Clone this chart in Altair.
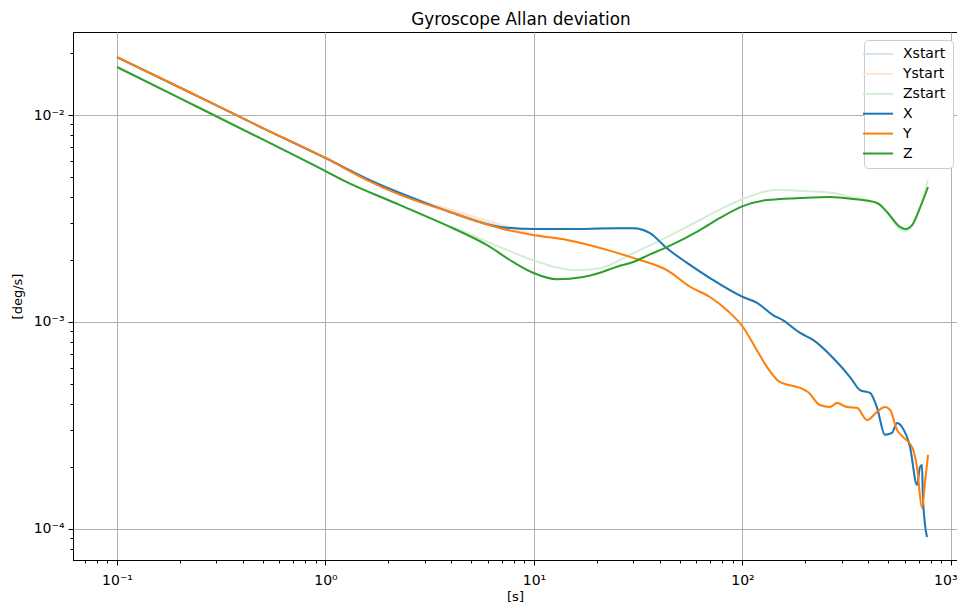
import altair as alt
import pandas as pd

# ---------------- data ----------------
tau_X = [0.1, 0.2, 0.5, 1.0, 1.63, 2.54, 3.95, 6.87, 9.89, 14.4, 25.0, 29.9, 36.0, 43.4, 54.2,
         69.8, 100.5, 117, 140, 156, 189, 218, 272, 328, 366, 409, 442, 482, 521, 551, 582,
         636, 687, 710, 726, 734, 767]
dev_X = [0.01905, 0.01358, 0.00865, 0.00620, 0.00485, 0.00402, 0.00340, 0.00288, 0.00281, 0.00281,
         0.00284, 0.00284, 0.00269, 0.00227, 0.00193, 0.00163, 0.00132, 0.00124, 0.00108, 0.00102,
         0.000885, 0.000819, 0.000670, 0.000542, 0.000469, 0.000454, 0.000385, 0.000285, 0.000291,
         0.000325, 0.000311, 0.000249, 0.000163, 0.000199, 0.000204, 0.000138, 0.0000914]
dev_Xstart = [0.01905, 0.01358, 0.00865, 0.00620, 0.00487, 0.00405, 0.00345, 0.00292, 0.00282, 0.00281,
              0.00284, 0.00284, 0.00269, 0.00227, 0.00193, 0.00163, 0.00132, 0.00124, 0.00108, 0.00102,
              0.000885, 0.000819, 0.000670, 0.000542, 0.000469, 0.000454, 0.000385, 0.000285, 0.000291,
              0.000325, 0.000311, 0.000249, 0.000163, 0.000199, 0.000204, 0.000138, 0.0000914]

tau_Y = [0.1, 0.2, 0.5, 1.0, 1.58, 2.28, 3.95, 6.87, 9.89, 14.4, 22.4, 29.9, 43.4, 56.0, 69.8,
         84.3, 100.5, 117, 131, 151, 189, 206, 235, 263, 284, 317, 354, 396, 442, 482, 510,
         551, 589, 650, 687, 726, 750, 776]
dev_Y = [0.01905, 0.01358, 0.00865, 0.00620, 0.00485, 0.00411, 0.00340, 0.00284, 0.00263, 0.00249,
         0.00223, 0.00204, 0.00178, 0.00148, 0.00132, 0.00114, 0.000946, 0.000733, 0.000607, 0.000513,
         0.000480, 0.000459, 0.000397, 0.000388, 0.000406, 0.000388, 0.000385, 0.000336, 0.000368,
         0.000388, 0.000376, 0.000301, 0.000278, 0.000249, 0.000199, 0.000126, 0.000167, 0.000228]
dev_Ystart = [0.01905, 0.01358, 0.00865, 0.00620, 0.00488, 0.00416, 0.00351, 0.00296, 0.00266, 0.00250,
              0.00223, 0.00204, 0.00178, 0.00148, 0.00132, 0.00114, 0.000946, 0.000733, 0.000607, 0.000513,
              0.000480, 0.000459, 0.000397, 0.000392, 0.000410, 0.000392, 0.000385, 0.000336, 0.000368,
              0.000388, 0.000376, 0.000301, 0.000278, 0.000249, 0.000199, 0.000126, 0.000167, 0.000228]

tau_Z = [0.1, 0.2, 0.5, 1.0, 1.21, 2.28, 3.95, 5.96, 7.93, 9.89, 12.9, 17.2, 20.7, 25.0, 29.9,
         36.0, 43.4, 62.5, 78.0, 100.5, 131, 189, 263, 339, 442, 493, 569, 601, 650, 710, 776]
dev_Z = [0.01706, 0.01206, 0.00762, 0.00536, 0.00485, 0.00367, 0.00288, 0.00235, 0.00195, 0.00173,
         0.00161, 0.00165, 0.00173, 0.00185, 0.00195, 0.00212, 0.00230, 0.00278, 0.00318, 0.00363,
         0.00388, 0.00397, 0.00402, 0.00393, 0.00376, 0.00340, 0.00288, 0.00281, 0.00294, 0.00356,
         0.00449]

tau_Zstart = [0.1, 0.2, 0.5, 1.0, 1.21, 2.28, 3.07, 4.77, 6.87, 9.89, 16.1, 20.7, 29.9, 43.4, 62.5,
              100.5, 146, 189, 272, 328, 442, 493, 569, 601, 650, 710, 776]
dev_Zstart = [0.01706, 0.01206, 0.00762, 0.00536, 0.00485, 0.00367, 0.00321, 0.00269, 0.00230, 0.00199,
              0.00178, 0.00182, 0.00215, 0.00257, 0.00311, 0.00393, 0.00435, 0.00430, 0.00420, 0.00402,
              0.00376, 0.00340, 0.00280, 0.00275, 0.00290, 0.00360, 0.00485]

series_names = ["Xstart", "Ystart", "Zstart", "X", "Y", "Z"]
series_colors = ["#d2e4f0", "#ffe5cf", "#d5ecd5", "#1f77b4", "#ff7f0e", "#2ca02c"]

x_major = [0.1, 1, 10, 100, 1000]
x_major_labels = ["10\u207b\u00b9", "10\u2070", "10\u00b9", "10\u00b2", "10\u00b3"]
y_major = [0.0001, 0.001, 0.01]
y_major_labels = ["10\u207b\u2074", "10\u207b\u00b3", "10\u207b\u00b2"]
minor_mult = [2, 3, 4, 5, 6, 7, 8, 9]
x_domain = [0.06152, 1068.5]
y_domain = [7.08e-5, 0.02518]

# ---------------- build table ----------------
rows = []
for name, taus, devs in [("Xstart", tau_X, dev_Xstart), ("Ystart", tau_Y, dev_Ystart),
                         ("Zstart", tau_Zstart, dev_Zstart), ("X", tau_X, dev_X),
                         ("Y", tau_Y, dev_Y), ("Z", tau_Z, dev_Z)]:
    for i, (t, d) in enumerate(zip(taus, devs)):
        rows.append({"series": name, "tau": t, "dev": d, "idx": i})
df = pd.DataFrame(rows)


def tick_values(majors, lo, hi):
    vals = []
    for m in majors + [majors[0] / 10]:
        for k in [1] + minor_mult:
            v = m * k
            if lo <= v <= hi:
                vals.append(v)
    return sorted(set(vals))


def label_expr(vals, labels):
    e = ""
    for v, l in zip(vals, labels):
        e += f"abs(datum.value/{v}-1)<1e-6 ? '{l}' : "
    return e + "''"


major_test = "abs(log(datum.value)/LN10 - round(log(datum.value)/LN10)) < 1e-6"
FONT = "DejaVu Sans"


def make_axis(vals, labels, lo, hi, title_pad, label_pad, **extra):
    return alt.Axis(
        values=tick_values(vals, lo, hi),
        labelExpr=label_expr(vals, labels),
        labelOverlap=False,
        labelFlush=False,
        grid=True,
        gridColor="#b0b0b0",
        gridWidth=1,
        gridOpacity={"condition": {"test": major_test, "value": 1}, "value": 0},
        tickSize={"condition": {"test": major_test, "value": 5}, "value": 3},
        tickColor="black",
        tickWidth=1,
        domainColor="black",
        domainWidth=1,
        labelFont=FONT,
        labelFontSize=14,
        labelColor="black",
        labelPadding=label_pad,
        titleFont=FONT,
        titleFontSize=13,
        titleFontWeight="normal",
        titleColor="black",
        titlePadding=title_pad,
        **extra,
    )


x_enc = alt.X("tau:Q", title="[s]",
              scale=alt.Scale(type="log", domain=x_domain, nice=False),
              axis=make_axis(x_major, x_major_labels, x_domain[0], x_domain[1], 3, 8,
                             labelAlign={"condition": {"test": "datum.value > 500", "value": "right"},
                                         "value": "center"},
                             labelOffset={"condition": {"test": "datum.value > 500", "value": 6},
                                          "value": 0}))
y_enc = alt.Y("dev:Q", title="[deg/s]",
              scale=alt.Scale(type="log", domain=y_domain, nice=False),
              axis=make_axis(y_major, y_major_labels, y_domain[0], y_domain[1], 9, 4))
color_enc = alt.Color(
    "series:N",
    scale=alt.Scale(domain=series_names, range=series_colors),
    legend=alt.Legend(
        title=None, orient="none", legendX=791, legendY=8,
        fillColor="white", strokeColor="#cccccc", cornerRadius=4, padding=7,
        symbolType="M-3,0H3", symbolStrokeWidth=2, symbolSize=100,
        labelFont=FONT, labelFontSize=14, labelColor="black", rowPadding=5.9,
        labelOffset=18,
    ),
)

base = alt.Chart(df)
start = base.transform_filter(
    "indexof(['Xstart','Ystart','Zstart'], datum.series) >= 0"
).mark_line(strokeWidth=2, interpolate="monotone", clip=True).encode(
    x=x_enc, y=y_enc, color=color_enc, order="idx:Q")
main = base.transform_filter(
    "indexof(['X','Y','Z'], datum.series) >= 0"
).mark_line(strokeWidth=2, interpolate="monotone", clip=True).encode(
    x=x_enc, y=y_enc, color=color_enc, order="idx:Q")

chart = alt.layer(start, main).properties(
    width=884, height=528,
    title=alt.TitleParams("Gyroscope Allan deviation", font=FONT, fontSize=16.8,
                          fontWeight="normal", color="black", offset=3, dx=6),
    autosize=alt.AutoSizeParams(type="none"),
    padding={"left": 65, "top": 24, "right": 0, "bottom": 44},
).configure_view(stroke="black", strokeWidth=1)

chart.save("out.html", embed_options={"renderer": "svg", "actions": False})
